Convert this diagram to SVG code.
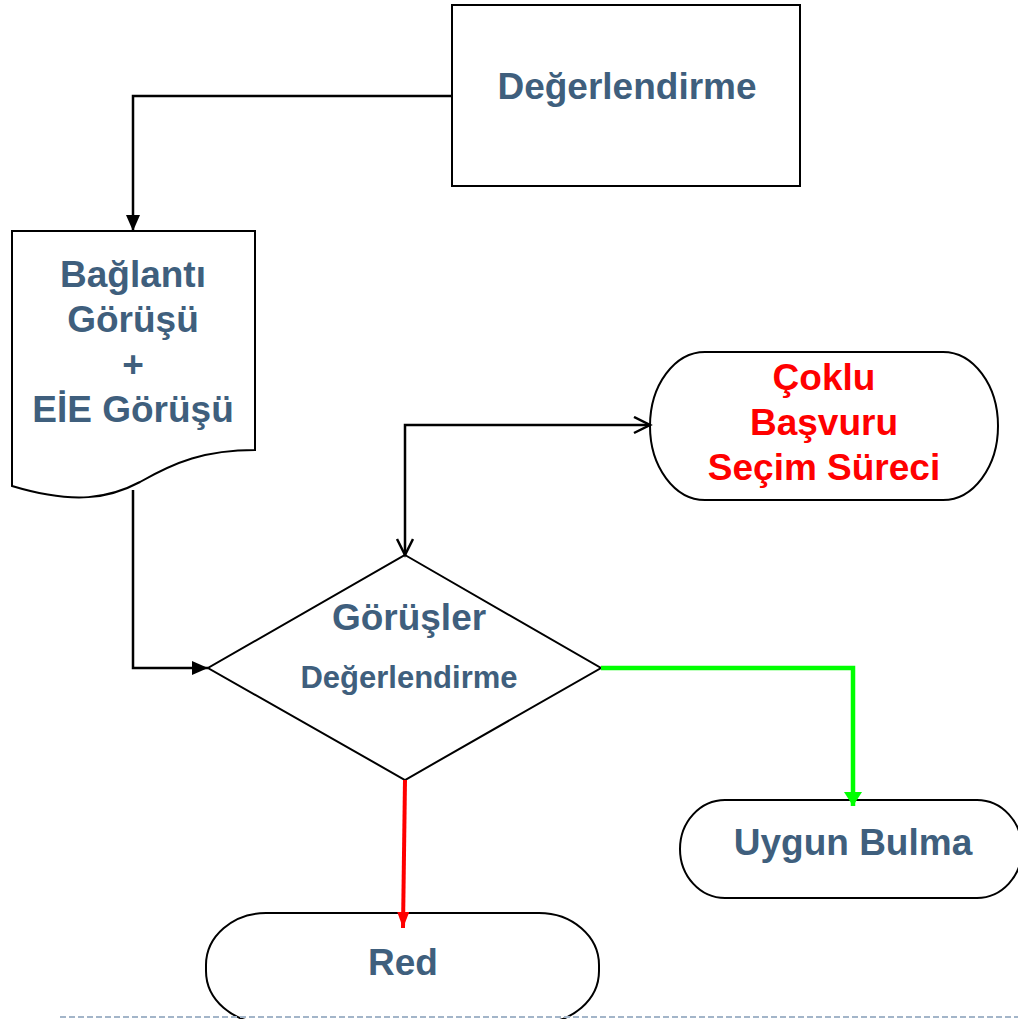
<svg xmlns="http://www.w3.org/2000/svg" width="1018" height="1019" viewBox="0 0 1018 1019">
<style>
.node{fill:#fff;stroke:#000;stroke-width:2}
.t{font-family:"Liberation Sans",Arial,sans-serif;font-weight:bold;font-size:37px;fill:#3f5f7d;text-anchor:middle}
.r{fill:#ff0000}
.c{fill:none;stroke:#000;stroke-width:2.5}
</style>
<defs>
<marker id="af" markerUnits="userSpaceOnUse" markerWidth="16" markerHeight="16" refX="16" refY="7" orient="auto"><path d="M0,0 L16,7 L0,14 z" fill="#000"/></marker>
<marker id="ao" markerUnits="userSpaceOnUse" markerWidth="20" markerHeight="20" refX="17" refY="9" orient="auto-start-reverse"><path d="M1,1 L17,9 L1,17" fill="none" stroke="#000" stroke-width="2.5"/></marker>
<marker id="ag" markerUnits="userSpaceOnUse" markerWidth="16" markerHeight="20" refX="14" refY="9" orient="auto"><path d="M0,0 L14,9 L0,18 z" fill="#00ff00"/></marker>
<marker id="ar" markerUnits="userSpaceOnUse" markerWidth="18" markerHeight="14" refX="16" refY="6" orient="auto"><path d="M0,0 L16,6 L0,12 z" fill="#ff0000"/></marker>
</defs>
<g id="degerlendirme">
<rect class="node" x="452" y="5" width="348" height="181"/>
<text class="t" x="627" y="99">Değerlendirme</text>
</g>
<g id="baglanti">
<path class="node" d="M12,231 L255,231 L255,450 C205,450 175,462 140,482 C110,498 75,505 12,486 Z"/>
<text class="t" x="133" y="287">Bağlantı</text>
<text class="t" x="133" y="332">Görüşü</text>
<text class="t" x="133" y="377">+</text>
<text class="t" x="133" y="422">EİE Görüşü</text>
</g>
<g id="coklu">
<rect class="node" x="650" y="352" width="348" height="148" rx="55" ry="74"/>
<text class="t r" x="824" y="390">Çoklu</text>
<text class="t r" x="824" y="435">Başvuru</text>
<text class="t r" x="824" y="480">Seçim Süreci</text>
</g>
<g id="gorusler">
<polygon class="node" points="405,555 601,668 405,780 208,668"/>
<text class="t" x="409" y="630">Görüşler</text>
<text class="t" x="409" y="688" style="font-size:31px">Değerlendirme</text>
</g>
<g id="uygun">
<rect class="node" x="680" y="800" width="342" height="98" rx="45" ry="49"/>
<text class="t" x="853" y="855">Uygun Bulma</text>
</g>
<g id="red">
<rect class="node" x="206" y="913" width="393" height="110" rx="60" ry="52"/>
<text class="t" x="403" y="975">Red</text>
</g>
<g id="connectors">
<path class="c" d="M452,96 L133,96 L133,231" marker-end="url(#af)"/>
<path class="c" d="M133,490 L133,668 L208,668" marker-end="url(#af)"/>
<path class="c" d="M405,555 L405,425 L650,425" marker-start="url(#ao)" marker-end="url(#ao)"/>
<path d="M601,668 L853,668 L853,806" fill="none" stroke="#00ff00" stroke-width="4.5" marker-end="url(#ag)"/>
<path d="M405,780 L403,928" fill="none" stroke="#ff0000" stroke-width="4" marker-end="url(#ar)"/>
</g>
<line x1="60" y1="1017" x2="1018" y2="1017" stroke="#a3b5c9" stroke-width="2" stroke-dasharray="6,3"/>
</svg>
